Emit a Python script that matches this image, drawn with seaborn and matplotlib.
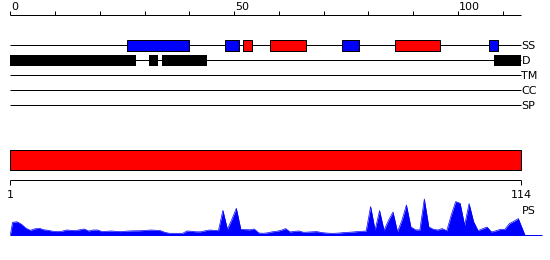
import matplotlib
matplotlib.use("Agg")
import matplotlib.pyplot as plt
import seaborn as sns
import numpy as np
import pandas as pd

# ---------------- data ----------------
seq_length = 114
top_ticks = list(range(0, 111, 10))
top_tick_labels = {0: "0", 50: "50", 100: "100"}

track_names = ["SS", "D", "TM", "CC", "SP"]

ss_starts = [26, 48, 52, 58, 74, 86, 107]
ss_ends = [40, 51, 54, 66, 78, 96, 109]
ss_types = ["strand", "strand", "helix", "helix", "strand", "helix", "strand"]

dis_starts = [0, 31, 34, 108]
dis_ends = [28, 33, 44, 114]

ps_residues = list(range(1, 115))
ps_values = [
    13, 13.5, 11, 7, 5, 6.5, 7, 5.5, 5, 4,
    3.7, 4, 5.3, 5, 4.7, 5.5, 6.3, 4.3, 5.3, 5.3,
    3.7, 4, 4.3, 4, 3.7, 4, 4.3, 4.5, 4.5, 4.7,
    5, 5.3, 5, 4.7, 3, 2, 2, 2, 2, 4.3,
    4, 3.5, 3.5, 4.5, 5.3, 5, 4.7, 25, 6, 16,
    27, 6, 5.7, 5.5, 6.3, 2.3, 2, 2.5, 3.5, 4,
    5, 6.7, 3.3, 4, 4.3, 3, 3.2, 3.5, 3.7, 2.8,
    2.3, 2, 2, 2.3, 2.7, 3, 3.3, 3.7, 4, 4.3,
    28.7, 5.3, 24.7, 5, 15, 23.3, 3.5, 15, 30.3, 8.3,
    5.5, 5.3, 36.3, 8.3, 6, 5.3, 6.7, 4.5, 20, 33.7,
    32, 10, 31.7, 13.7, 4.7, 6.5, 8.3, 3.3, 4.5, 6,
    6, 11.7, 14, 16.7,
]

# ---------------- style ----------------
sns.set_theme(style="white")
plt.rcParams["font.family"] = ["DejaVu Sans"]
FS = 8
LW = 0.72

W, H = 550, 260
fig = plt.figure(figsize=(W / 100, H / 100), dpi=100)

# top scale: residue 0 at px 10.3, 4.476 px per residue
px0, ppr = 10.3, 4.476
ax = fig.add_axes([0, 0, 1, 1])
ax.set_xlim(-px0 / ppr, (W - px0) / ppr)
ax.set_ylim(H, 0)
ax.axis("off")
ax.patch.set_alpha(0)

# top ruler
ax.hlines(15, 0, seq_length, color="black", lw=LW)
ax.vlines(top_ticks, 10.5, 15, color="black", lw=LW)
for t, lab in top_tick_labels.items():
    ax.text(t + 0.2, 6.5, lab, ha="left", va="center", fontsize=FS, color="black")

# tracks
track_y = dict(zip(track_names, [45.3, 60.3, 75.3, 90.3, 105.3]))
for name in track_names:
    y = track_y[name]
    ax.hlines(y, 0, seq_length, color="black", lw=LW, zorder=1)
    ax.text(seq_length + 0.2, y + 0.3, name, ha="left", va="center", fontsize=FS, color="black")

colors = {"helix": "#ff0000", "strand": "#0000ff"}
for s, e, t in zip(ss_starts, ss_ends, ss_types):
    ax.broken_barh([(s, e - s)], (40.3, 10.4), facecolors=colors[t],
                   edgecolors="black", linewidth=LW, zorder=2)
ax.broken_barh([(s, e - s) for s, e in zip(dis_starts, dis_ends)], (55, 10.7),
               facecolors="black", edgecolors="black", linewidth=0, zorder=2)

# bottom scale: residue 1 at px 10, residue 114 at px 521
bp0 = 10.0
bppr = (521 - 10) / (seq_length - 1)
axb = fig.add_axes([0, 0, 1, 1])
axb.set_xlim(1 - bp0 / bppr, 1 + (W - bp0) / bppr)
axb.set_ylim(H, 0)
axb.axis("off")
axb.patch.set_alpha(0)

axb.broken_barh([(1, seq_length - 1)], (150, 20.3), facecolors="#ff0000",
                edgecolors="black", linewidth=LW)
axb.hlines(180.3, 1, seq_length, color="black", lw=LW)
axb.vlines([1, seq_length], 180.3, 185, color="black", lw=LW)
axb.text(1, 195.5, "1", ha="center", va="center", fontsize=FS, color="black")
axb.text(seq_length, 195.5, str(seq_length), ha="center", va="center", fontsize=FS, color="black")
axb.text(seq_length + 0.15, 210.5, "PS", ha="left", va="center", fontsize=FS, color="black")

# profile axes (values in px units above baseline)
base_px = 235.3
axp = fig.add_axes([0, (H - base_px) / H, 1, 40 / H])
axp.set_xlim(-px0 / ppr, (W - px0) / ppr)
axp.set_ylim(0, 40)
axp.axis("off")
axp.patch.set_alpha(0)

df = pd.DataFrame({"pos": np.array(ps_residues) - 0.5, "score": ps_values})
xs = np.concatenate([[0], df["pos"].values, [seq_length + 1]])
ys = np.concatenate([[0], df["score"].values, [0]])
axp.fill_between(xs, 0, ys, color="#0000ff", lw=0)
sns.lineplot(x=xs, y=ys, ax=axp, color="#0000ff", lw=0.5, legend=False)
axp.hlines(0, 0, (541.7 - px0) / ppr, color="#0000ff", lw=LW, clip_on=False)

fig.savefig("out.png", dpi=100)
